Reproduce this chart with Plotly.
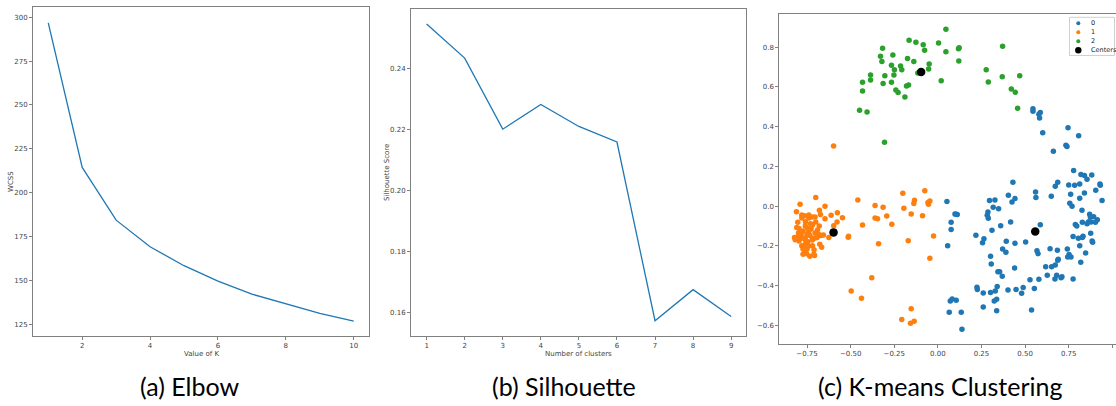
import plotly.graph_objects as go

# ---------------- data ----------------
k_elbow = [1, 2, 3, 4, 5, 6, 7, 8, 9, 10]
wcss = [296.9, 214.4, 184.3, 169.1, 158.3, 149.5, 142.1, 136.4, 131.1, 126.7]

k_sil = [1, 2, 3, 4, 5, 6, 7, 8, 9]
sil_score = [0.2545, 0.2433, 0.2200, 0.2281, 0.2209, 0.2158, 0.1572, 0.1674, 0.1586]

cluster0_x = [0.545, 0.545, 0.579, 0.587, 0.583, 0.601, 0.746, 0.807, 0.734, 0.740, 0.662, 0.778,
              0.820, 0.840, 0.882,
              0.430, 0.687, 0.673, 0.750, 0.784, 0.813, 0.855, 0.929, 0.931, 0.905, 0.840, 0.296,
              0.327, 0.404, 0.442, 0.425, 0.560, 0.562, 0.650, 0.761, 0.813, 0.941, 0.052, 0.756,
              0.769, 0.317, 0.348, 0.287, 0.283, 0.289, 0.098, 0.111, 0.104, 0.826, 0.870, 0.893,
              0.874, 0.878, 0.828, 0.076, 0.587, 0.417, 0.360, 0.788, 0.796, 0.855, 0.864, 0.914,
              0.903, 0.076, 0.310, 0.218, 0.264, 0.256, 0.392, 0.442, 0.503, 0.775, 0.805, 0.832,
              0.828, 0.876, 0.884, 0.887, 0.813, 0.056, 0.371, 0.390, 0.568, 0.574, 0.643, 0.685,
              0.742, 0.752, 0.744, 0.763, 0.847, 0.302, 0.690, 0.687, 0.819, 0.306, 0.618, 0.652,
              0.673, 0.440, 0.344, 0.354, 0.369, 0.627, 0.681, 0.711, 0.706, 0.671, 0.775, 0.528,
              0.579, 0.224, 0.226, 0.340, 0.260, 0.302, 0.329, 0.402, 0.448, 0.489, 0.480, 0.553,
              0.082, 0.071, 0.105, 0.337, 0.323, 0.260, 0.065, 0.134, 0.337, 0.537, 0.138]
cluster0_y = [0.491, 0.478, 0.463, 0.471, 0.444, 0.370, 0.395, 0.355, 0.307, 0.300, 0.276, 0.179,
              0.159, 0.154, 0.157,
              0.120, 0.120, 0.100, 0.107, 0.105, 0.112, 0.135, 0.112, 0.105, 0.080, 0.066, 0.028,
              0.031, 0.055, 0.038, 0.021, 0.071, 0.043, 0.050, 0.060, 0.040, 0.028, 0.023, 0.015,
              -0.001, -0.006, -0.013, -0.029, -0.046, -0.061, -0.039, -0.042, -0.041, -0.021, -0.041, -0.053,
              -0.055, -0.080, -0.081, -0.081, -0.093, -0.080, -0.098, -0.092, -0.100, -0.088, -0.078, -0.069,
              -0.081, -0.118, -0.121, -0.147, -0.164, -0.184, -0.177, -0.187, -0.180, -0.153, -0.162, -0.152,
              -0.158, -0.137, -0.175, -0.182, -0.199, -0.199, -0.216, -0.232, -0.224, -0.239, -0.214, -0.222,
              -0.216, -0.244, -0.256, -0.256, -0.236, -0.252, -0.267, -0.272, -0.283, -0.291, -0.305, -0.305,
              -0.296, -0.311, -0.330, -0.330, -0.353, -0.348, -0.348, -0.356, -0.360, -0.367, -0.367, -0.370,
              -0.368, -0.408, -0.419, -0.405, -0.437, -0.435, -0.427, -0.422, -0.419, -0.410, -0.439, -0.415,
              -0.467, -0.477, -0.474, -0.469, -0.477, -0.508, -0.534, -0.534, -0.526, -0.523, -0.620]

cluster1_x = [-0.700, -0.790, -0.647, -0.811, -0.679, -0.576, -0.612, -0.673, -0.547, -0.647, -0.578,
              -0.597, -0.625, -0.514, -0.512, -0.459, -0.432, -0.360, -0.314, -0.360, -0.346, -0.293,
              -0.264, -0.340, -0.201, -0.075, -0.134, -0.138, -0.195, -0.046, -0.057, -0.054, -0.153,
              -0.088, -0.170, -0.025, -0.046, -0.379, -0.497, -0.438, -0.153, -0.207, -0.136, -0.157,
              -0.598,
              -0.780, -0.765, -0.740, -0.719, -0.704, -0.803, -0.730, -0.719, -0.759, -0.809, -0.796,
              -0.746, -0.727, -0.773, -0.704, -0.688, -0.677, -0.669, -0.799, -0.784, -0.750, -0.734,
              -0.656, -0.822, -0.818, -0.792, -0.773, -0.719, -0.707, -0.692, -0.757, -0.746, -0.796,
              -0.765, -0.753, -0.719, -0.677, -0.666, -0.780, -0.773, -0.761, -0.750, -0.773, -0.753,
              -0.734, -0.711, -0.707, -0.803, -0.740, -0.720, -0.760, -0.690, -0.780, -0.700, -0.740,
              -0.800, -0.710, -0.740, -0.680, -0.760]
cluster1_y = [0.043, 0.010, -0.001, -0.028, -0.021, -0.033, -0.046, -0.042, -0.058, -0.063, -0.080,
              -0.098, -0.158, -0.156, -0.152, 0.031, -0.095, 0.003, -0.006, -0.059, -0.063, -0.049,
              -0.091, -0.189, 0.065, 0.077, 0.030, 0.013, -0.011, 0.026, 0.018, 0.010, -0.039,
              -0.048, -0.174, -0.150, -0.262, -0.360, -0.427, -0.464, -0.516, -0.571, -0.580, -0.590,
              0.303,
              -0.044, -0.048, -0.044, -0.054, -0.054, -0.081, -0.088, -0.095, -0.078, -0.108, -0.112,
              -0.112, -0.115, -0.125, -0.135, -0.142, -0.145, -0.148, -0.135, -0.142, -0.142, -0.148,
              -0.145, -0.158, -0.169, -0.158, -0.162, -0.162, -0.162, -0.158, -0.175, -0.179, -0.175,
              -0.195, -0.192, -0.199, -0.192, -0.207, -0.199, -0.216, -0.226, -0.216, -0.242, -0.239,
              -0.252, -0.242, -0.249, -0.158, -0.130, -0.170, -0.100, -0.120, -0.060, -0.080, -0.060,
              -0.150, -0.220, -0.200, -0.100, -0.160]

cluster2_x = [0.046, -0.165, -0.126, -0.084, 0.004, -0.317, -0.076, 0.046, -0.329, -0.258, -0.321,
              -0.174, -0.138, -0.050, -0.266, -0.214, -0.249, -0.207, -0.053, -0.115, -0.386, -0.304,
              -0.252, -0.386, -0.432, -0.314, -0.266, 0.019, -0.180, -0.168, -0.432, -0.241, -0.228,
              -0.189, -0.449, -0.406, -0.306, 0.118, 0.122, 0.120, 0.371, 0.277, 0.289, 0.369, 0.469,
              0.421, 0.444, 0.457]
cluster2_y = [0.891, 0.835, 0.825, 0.813, 0.822, 0.795, 0.785, 0.778, 0.755, 0.761, 0.728,
              0.743, 0.728, 0.716, 0.709, 0.706, 0.687, 0.687, 0.691, 0.671, 0.661, 0.657,
              0.661, 0.635, 0.624, 0.617, 0.624, 0.632, 0.605, 0.610, 0.580, 0.585, 0.572,
              0.550, 0.483, 0.474, 0.322, 0.793, 0.797, 0.731, 0.805, 0.687, 0.625, 0.651, 0.656,
              0.590, 0.573, 0.493]

centers_x = [0.558, -0.598, -0.096]
centers_y = [-0.127, -0.132, 0.676]

cluster_names = ["0", "1", "2"]
centers_name = "Centers"

elbow_xticks = [2, 4, 6, 8, 10]
elbow_yticks = [125, 150, 175, 200, 225, 250, 275, 300]
sil_xticks = [1, 2, 3, 4, 5, 6, 7, 8, 9]
sil_yticks = [0.16, 0.18, 0.20, 0.22, 0.24]
km_xticks = [-0.75, -0.50, -0.25, 0.00, 0.25, 0.50, 0.75, 1.00]
km_yticks = [-0.6, -0.4, -0.2, 0.0, 0.2, 0.4, 0.6, 0.8]

captions = ["(a) Elbow", "(b) Silhouette", "(c) K-means Clustering"]

# ---------------- figure ----------------
W, H = 1116, 406
BLUE, ORANGE, GREEN = "#1f77b4", "#ff7f0e", "#2ca02c"
FRAME = "#808080"
TICKFONT = dict(family="DejaVu Sans", size=7, color="#444444")


def px_x(p):
    return p / W


def px_y(p):
    return 1 - p / H


def axis(domain, rng, tickvals, fmt, mirror=True):
    return dict(domain=domain, range=rng, tickvals=tickvals, tickformat=fmt,
                showgrid=False, zeroline=False, showline=True, linecolor=FRAME,
                linewidth=1, mirror=mirror, ticks="outside", ticklen=3, tickwidth=1,
                tickcolor=FRAME, tickfont=TICKFONT)


fig = go.Figure()
fig.add_trace(go.Scatter(x=k_elbow, y=wcss, mode="lines", line=dict(color=BLUE, width=1.3),
                         xaxis="x", yaxis="y", showlegend=False, hoverinfo="skip"))
fig.add_trace(go.Scatter(x=k_sil, y=sil_score, mode="lines", line=dict(color=BLUE, width=1.3),
                         xaxis="x2", yaxis="y2", showlegend=False, hoverinfo="skip"))
cluster_colors = [BLUE, ORANGE, GREEN]
for name, xs, ys, col in zip(cluster_names, [cluster0_x, cluster1_x, cluster2_x],
                             [cluster0_y, cluster1_y, cluster2_y], cluster_colors):
    fig.add_trace(go.Scatter(x=xs, y=ys, mode="markers", name=name, showlegend=False,
                             marker=dict(color=col, size=5.5, line=dict(width=0)),
                             xaxis="x3", yaxis="y3"))
fig.add_trace(go.Scatter(x=centers_x, y=centers_y, mode="markers", name=centers_name,
                         showlegend=False,
                         marker=dict(color="black", size=8.5, line=dict(width=0)),
                         xaxis="x3", yaxis="y3"))

fig.update_layout(
    width=W, height=H, margin=dict(l=0, r=0, t=0, b=0),
    paper_bgcolor="white", plot_bgcolor="white",
    xaxis=axis([px_x(33), px_x(369)], [0.55, 10.45], elbow_xticks, "d"),
    yaxis=axis([px_y(336), px_y(7)], [118.2, 305.9], elbow_yticks, "d"),
    xaxis2=dict(axis([px_x(411), px_x(746)], [0.59, 9.39], sil_xticks, "d"), anchor="y2"),
    yaxis2=dict(axis([px_y(336), px_y(9)], [0.1522, 0.2594], sil_yticks, ".2f"), anchor="x2"),
    xaxis3=dict(axis([px_x(779.3), 1.0], [-0.909, 1.021], km_xticks, ".2f"), anchor="y3"),
    yaxis3=dict(axis([px_y(344), px_y(14.3)], [-0.694, 0.966], km_yticks, ".1f", mirror=False),
                anchor="x3"),
    showlegend=False,
    font=dict(family="DejaVu Sans"),
)

# compact matplotlib-style legend box (top-right of panel c)
fig.add_shape(type="rect", xref="paper", yref="paper",
              x0=px_x(1069.5), x1=px_x(1114.5), y0=px_y(55.5), y1=px_y(17.3),
              line=dict(color="#d0d0d0", width=1), fillcolor="rgba(255,255,255,0.85)")
legend_items = list(zip(cluster_names + [centers_name], cluster_colors + ["black"],
                        [2.0, 2.0, 2.0, 3.2]))
for i, (label, col, r) in enumerate(legend_items):
    cy = 23.3 + 9.0 * i
    cx = 1078.3
    fig.add_shape(type="circle", xref="paper", yref="paper",
                  x0=px_x(cx - r), x1=px_x(cx + r), y0=px_y(cy + r), y1=px_y(cy - r),
                  fillcolor=col, line=dict(width=0))
    fig.add_annotation(text=label, x=px_x(1088.5), y=px_y(cy), xref="paper", yref="paper",
                       xanchor="left", yanchor="middle", showarrow=False,
                       font=dict(family="DejaVu Sans", size=6.5, color="#222222"))

annos = [
    dict(text="Value of K", x=px_x(201), y=px_y(354), rot=0),
    dict(text="WCSS", x=px_x(11), y=px_y(182), rot=-90),
    dict(text="Number of clusters", x=px_x(578.5), y=px_y(354), rot=0),
    dict(text="Silhouette Score", x=px_x(387.5), y=px_y(172.5), rot=-90),
]
for a in annos:
    fig.add_annotation(text=a["text"], x=a["x"], y=a["y"], xref="paper", yref="paper",
                       xanchor="center", yanchor="middle", textangle=a["rot"], showarrow=False,
                       font=dict(family="DejaVu Sans", size=7, color="#444444"))

for cap, cx in zip(captions, [189, 564, 940]):
    fig.add_annotation(text=cap, x=px_x(cx), y=px_y(386), xref="paper", yref="paper",
                       xanchor="center", yanchor="middle", showarrow=False,
                       font=dict(family="Lato", size=25, color="black"))

fig.write_html("out.html")
